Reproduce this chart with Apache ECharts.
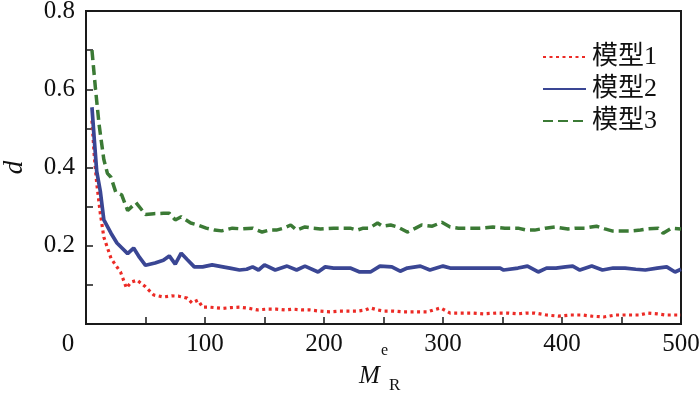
<!DOCTYPE html>
<html>
<head>
<meta charset="utf-8">
<script src="https://cdn.jsdelivr.net/npm/echarts@6/dist/echarts.min.js"></script>
<style>html,body{margin:0;padding:0;background:#fff}#c{width:700px;height:394px}</style>
</head>
<body>
<div id="c"></div>
<script>
var seriesNames = ['模型1', '模型2', '模型3'];
var xTicks = [0, 100, 200, 300, 400, 500];
var yTicks = [0.2, 0.4, 0.6, 0.8];

var m1X = [5, 7, 9, 12, 15, 21, 25, 29, 34, 38, 43, 50, 57, 65, 72, 78, 85, 89, 94, 98, 104, 115, 122, 129, 137, 144, 152, 160, 167, 174, 181, 188, 196, 205, 213, 220, 228, 235, 239, 245, 250, 258, 266, 276, 287, 292, 298, 306, 315, 325, 334, 345, 355, 363, 370, 377, 387, 397, 407, 417, 425, 435, 445, 455, 465, 472, 480, 487, 493, 500];
var m1Y = [0.52, 0.427, 0.36, 0.283, 0.222, 0.168, 0.15, 0.133, 0.092, 0.107, 0.112, 0.095, 0.074, 0.069, 0.072, 0.071, 0.066, 0.054, 0.061, 0.043, 0.043, 0.04, 0.042, 0.043, 0.04, 0.036, 0.038, 0.038, 0.036, 0.038, 0.036, 0.036, 0.033, 0.031, 0.033, 0.033, 0.033, 0.036, 0.041, 0.036, 0.033, 0.033, 0.031, 0.031, 0.031, 0.036, 0.041, 0.028, 0.028, 0.028, 0.026, 0.028, 0.028, 0.026, 0.028, 0.028, 0.023, 0.02, 0.023, 0.023, 0.02, 0.018, 0.023, 0.023, 0.023, 0.028, 0.026, 0.023, 0.023, 0.023];

var m2X = [5, 7, 9, 12, 15, 21, 26, 30, 35, 40, 45, 50, 58, 65, 70, 75, 80, 85, 91, 98, 106, 115, 122, 129, 135, 140, 145, 150, 159, 169, 177, 184, 195, 201, 208, 216, 222, 230, 239, 247, 257, 264, 270, 281, 289, 300, 306, 313, 320, 335, 348, 351, 363, 371, 380, 387, 395, 403, 409, 415, 425, 434, 443, 453, 462, 470, 480, 488, 495, 500];
var m2Y = [0.554, 0.47, 0.39, 0.34, 0.266, 0.232, 0.207, 0.195, 0.18, 0.194, 0.17, 0.15, 0.156, 0.163, 0.174, 0.153, 0.181, 0.165, 0.146, 0.146, 0.151, 0.146, 0.142, 0.138, 0.14, 0.146, 0.138, 0.151, 0.138, 0.148, 0.138, 0.148, 0.133, 0.146, 0.143, 0.143, 0.143, 0.133, 0.133, 0.148, 0.146, 0.135, 0.143, 0.148, 0.138, 0.148, 0.143, 0.143, 0.143, 0.143, 0.143, 0.138, 0.143, 0.148, 0.133, 0.143, 0.143, 0.146, 0.148, 0.138, 0.148, 0.138, 0.143, 0.143, 0.14, 0.138, 0.143, 0.146, 0.133, 0.14];

var m3X = [5, 8, 11, 15, 18, 21, 25, 30, 35, 42, 50, 57, 65, 70, 75, 80, 88, 94, 101, 108, 114, 123, 131, 140, 148, 154, 160, 166, 172, 177, 184, 190, 197, 208, 216, 222, 228, 233, 238, 245, 249, 256, 262, 270, 277, 282, 291, 299, 306, 313, 320, 331, 342, 352, 363, 370, 377, 386, 394, 405, 412, 419, 429, 436, 442, 450, 459, 466, 472, 481, 485, 492, 500];
var m3Y = [0.70, 0.60, 0.51, 0.42, 0.385, 0.375, 0.337, 0.33, 0.29, 0.31, 0.28, 0.282, 0.283, 0.283, 0.266, 0.274, 0.258, 0.253, 0.245, 0.24, 0.238, 0.245, 0.243, 0.245, 0.235, 0.24, 0.24, 0.245, 0.253, 0.24, 0.248, 0.245, 0.243, 0.245, 0.245, 0.245, 0.24, 0.245, 0.245, 0.258, 0.25, 0.253, 0.248, 0.235, 0.245, 0.253, 0.25, 0.26, 0.248, 0.245, 0.245, 0.245, 0.248, 0.245, 0.245, 0.24, 0.24, 0.245, 0.248, 0.243, 0.245, 0.245, 0.25, 0.243, 0.238, 0.238, 0.238, 0.24, 0.243, 0.245, 0.232, 0.245, 0.243];

function pairs(xs, ys) { return xs.map(function (x, i) { return [x, ys[i]]; }); }

var FONT = '"Liberation Serif", "Noto Sans CJK SC", serif';
var AX = '#1a1a1a';

var chart = echarts.init(document.getElementById('c'), null, { renderer: 'canvas' });
chart.setOption({
  animation: false,
  backgroundColor: '#fff',
  grid: { left: 86, right: 19, top: 11, bottom: 70, containLabel: false, outerBoundsMode: 'none',
          show: true, borderColor: AX, borderWidth: 2, backgroundColor: 'transparent' },
  legend: {
    orient: 'vertical',
    left: 537, top: 39,
    itemWidth: 43, itemHeight: 10, itemGap: 6,
    data: seriesNames,
    itemStyle: { opacity: 0 },
    textStyle: { fontFamily: FONT, fontSize: 26, color: '#111', padding: [0, 0, 0, 1] }
  },
  xAxis: {
    type: 'value', min: xTicks[0], max: xTicks[xTicks.length - 1], interval: 100,
    axisLine: { show: true, onZero: false, lineStyle: { color: AX, width: 2 } },
    axisTick: { show: true, inside: true, length: 7, lineStyle: { color: AX, width: 1.5 } },
    minorTick: { show: true, splitNumber: 2, length: 7, lineStyle: { color: AX, width: 1.5 } },
    splitLine: { show: false },
    axisLabel: {
      margin: 8, color: '#111', fontFamily: FONT, fontSize: 25,
      formatter: function (v) { return v === 0 ? '{z|0}' : String(v); },
      rich: { z: { fontFamily: FONT, fontSize: 25, color: '#111', padding: [0, 36, 0, 0] } }
    }
  },
  yAxis: {
    type: 'value', min: 0, max: yTicks[yTicks.length - 1], interval: 0.2,
    name: 'd', nameLocation: 'middle', nameGap: 58, nameRotate: 90,
    nameTextStyle: { fontFamily: FONT, fontStyle: 'italic', fontSize: 27, color: '#111' },
    axisLine: { show: true, lineStyle: { color: AX, width: 2 } },
    axisTick: { show: true, inside: true, length: 7, lineStyle: { color: AX, width: 1.5 } },
    minorTick: { show: true, splitNumber: 2, length: 7, lineStyle: { color: AX, width: 1.5 } },
    splitLine: { show: false },
    axisLabel: {
      margin: 11, color: '#111', fontFamily: FONT, fontSize: 25,
      formatter: function (v) { return v === 0 ? '' : v.toFixed(1); }
    }
  },
  graphic: [
    { type: 'text', left: 359, top: 364, style: { text: 'M', font: 'italic 25px "Liberation Serif"', fill: '#111' } },
    { type: 'text', left: 381, top: 343, style: { text: 'e', font: '16px "Liberation Serif"', fill: '#111' } },
    { type: 'text', left: 389, top: 377, style: { text: 'R', font: '17px "Liberation Serif"', fill: '#111' } }
  ],
  series: [
    { name: seriesNames[0], type: 'line', data: pairs(m1X, m1Y), symbol: 'none', smooth: false,
      lineStyle: { color: '#ec2b26', width: 3.2, type: [3, 3.5] }, itemStyle: { color: '#ec2b26' } },
    { name: seriesNames[1], type: 'line', data: pairs(m2X, m2Y), symbol: 'none',
      lineStyle: { color: '#3a4694', width: 3.7, type: 'solid' }, itemStyle: { color: '#3a4694' } },
    { name: seriesNames[2], type: 'line', data: pairs(m3X, m3Y), symbol: 'none',
      lineStyle: { color: '#3b7a35', width: 3.5, type: [10, 5] }, itemStyle: { color: '#3b7a35' } }
  ]
});
</script>
</body>
</html>
